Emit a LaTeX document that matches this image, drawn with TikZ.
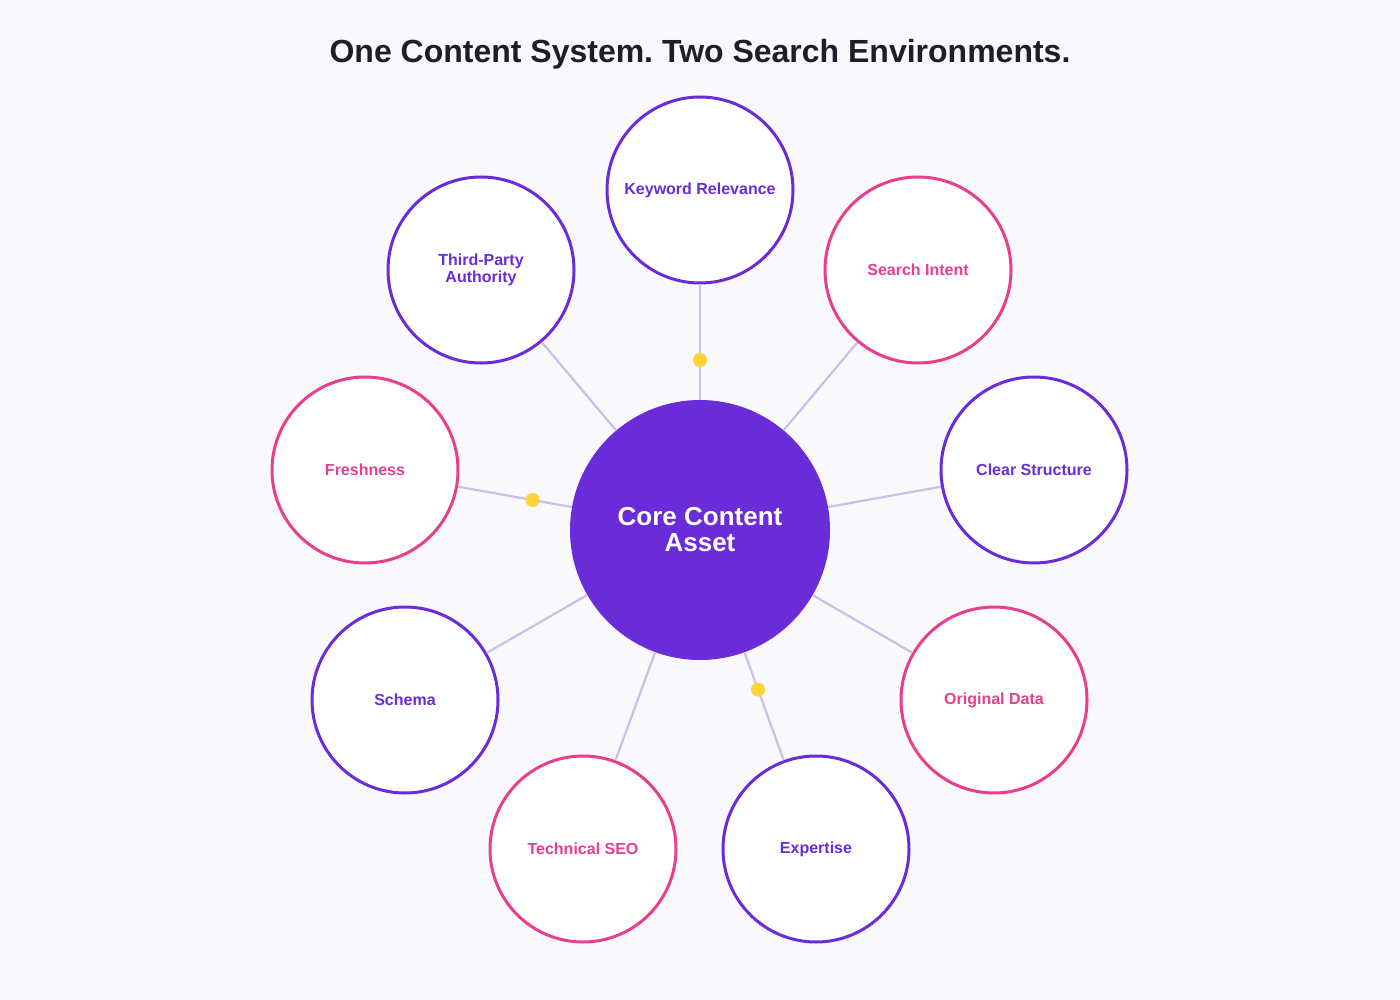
\documentclass[tikz,border=0pt]{standalone}
\usepackage{fontspec}
\setmainfont{Liberation Sans}
\usetikzlibrary{calc}
\frenchspacing
\definecolor{bgc}{HTML}{F9F9FC}
\definecolor{purp}{HTML}{6A2BD9}
\definecolor{pinkc}{HTML}{E83E8C}
\definecolor{edgec}{HTML}{C8C0E8}
\definecolor{dotc}{HTML}{FFD43B}
\definecolor{titlec}{HTML}{1E1E2A}
\tikzset{
  sat/.style={circle, draw, line width=3pt, fill=white, minimum size=186pt, inner sep=0pt,
    align=center, font=\fontsize{16}{17}\selectfont\bfseries},
  satp/.style={sat, draw=purp, text=purp},
  satk/.style={sat, draw=pinkc, text=pinkc},
  link/.style={draw=edgec, line width=2.2pt},
  ydot/.style={circle, fill=dotc, minimum size=14pt, inner sep=0pt},
}
\begin{document}
\begin{tikzpicture}[x=1pt, y=-1pt]
\fill[bgc] (0,0) rectangle (1400,1000);
\useasboundingbox (0,0) rectangle (1400,1000);
\node[text=titlec, font=\fontsize{32}{36}\selectfont\bfseries] (title) at (700,54) {One Content System. Two Search Environments.};
\node[circle, fill=purp, minimum size=260pt, inner sep=0pt, text=white, align=center,
  font=\fontsize{26}{26}\selectfont\bfseries] (core) at (700,530) {Core Content\\Asset};
\node[satp] (kw) at (700,190) {Keyword Relevance};
\node[satk] (si) at (918,270) {Search Intent};
\node[satp] (cs) at (1034,470) {Clear Structure};
\node[satk] (od) at (994,700) {Original Data};
\node[satp] (ex) at (816,849) {Expertise};
\node[satk] (ts) at (583,849) {Technical SEO};
\node[satp] (sc) at (405,700) {Schema};
\node[satk] (fr) at (365,470) {Freshness};
\node[satp] (tp) at (481,270) {Third-Party\\Authority};
\foreach \n in {kw,si,cs,od,ex,ts,sc,fr,tp} {
  \draw[link] (core) -- (\n);
}
\node[ydot] (d1) at ($(core.center)!0.5!(kw.center)$) {};
\node[ydot] (d2) at ($(core.center)!0.5!(fr.center)$) {};
\node[ydot] (d3) at ($(core.center)!0.5!(ex.center)$) {};
\end{tikzpicture}
\end{document}
